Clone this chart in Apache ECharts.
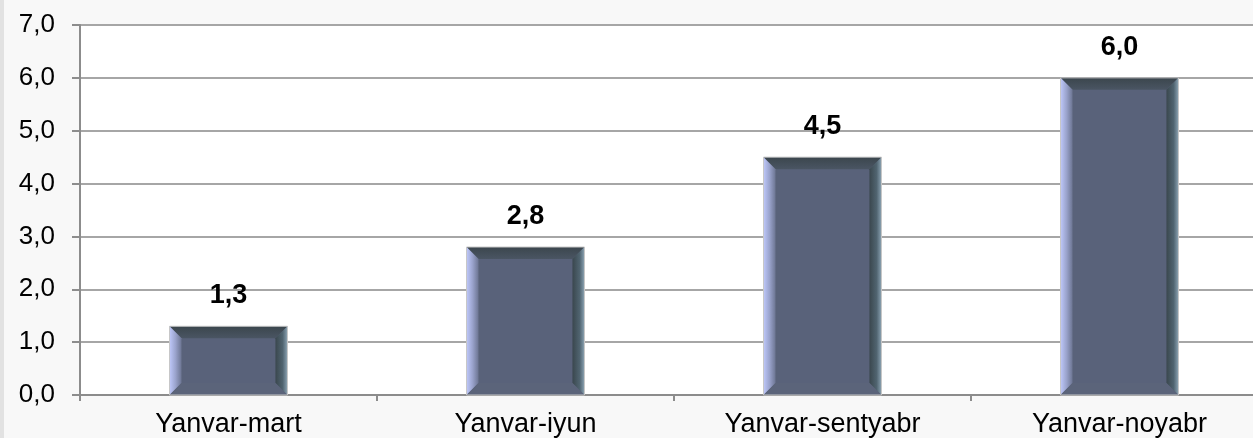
<!DOCTYPE html>
<html>
<head>
<meta charset="utf-8">
<script src="https://cdn.jsdelivr.net/npm/echarts@6/dist/echarts.min.js"></script>
<style>
html,body{margin:0;padding:0;background:#f8f8f8;overflow:hidden;}
#chart{width:1276px;height:438px;}
</style>
</head>
<body>
<div id="chart"></div>
<script>
const categories = ['Yanvar-mart', 'Yanvar-iyun', 'Yanvar-sentyabr', 'Yanvar-noyabr'];
const values = [1.3, 2.8, 4.5, 6.0];
const yTicks = [0, 1, 2, 3, 4, 5, 6, 7];

const FONT = '"Liberation Sans", Arial, sans-serif';
const fmt = v => Number(v).toFixed(1).replace('.', ',');
const chart = echarts.init(document.getElementById('chart'), null, {renderer: 'canvas'});

function renderBar(params, api) {
  const idx = api.value(0);
  const val = api.value(1);
  const base = api.coord([idx, 0]);
  const top = api.coord([idx, val]);
  const w = api.size([1, 0])[0] * 0.397;
  const L = base[0] - w / 2, R = base[0] + w / 2, T = top[1], B = base[1];
  const b = 12;
  return {
    type: 'group',
    children: [
      {type: 'rect', shape: {x: L, y: T, width: R - L, height: B - T}, style: {fill: '#59627a'}},
      {type: 'polygon', shape: {points: [[L, T], [R, T], [R - b, T + b], [L + b, T + b]]},
        style: {fill: {type: 'linear', x: 0, y: 0, x2: 0, y2: 1, colorStops: [{offset: 0, color: '#3b464d'}, {offset: 1, color: '#4a5563'}]}}},
      {type: 'polygon', shape: {points: [[L, T], [L + b, T + b], [L + b, B - b], [L, B]]},
        style: {fill: {type: 'linear', x: 0, y: 0, x2: 1, y2: 0, colorStops: [{offset: 0, color: '#bec8fa'}, {offset: 0.5, color: '#9aa3cc'}, {offset: 1, color: '#6c7592'}]}}},
      {type: 'polygon', shape: {points: [[R, T], [R, B], [R - b, B - b], [R - b, T + b]]},
        style: {fill: {type: 'linear', x: 0, y: 0, x2: 1, y2: 0, colorStops: [{offset: 0, color: '#3a474e'}, {offset: 0.6, color: '#506470'}, {offset: 1, color: '#8aa2b2'}]}}},
      {type: 'polygon', shape: {points: [[L, B], [R, B], [R - b, B - b], [L + b, B - b]]},
        style: {fill: '#5b647a'}},
      {type: 'rect', shape: {x: L, y: T, width: R - L, height: B - T}, style: {fill: 'none', stroke: '#c8c8c8', lineWidth: 1}},
      {type: 'text', style: {text: fmt(val), x: base[0], y: T - 17, align: 'center', verticalAlign: 'bottom',
        fontSize: 27, fontWeight: 'bold', fontFamily: FONT, fill: '#000'}}
    ]
  };
}

chart.setOption({
  backgroundColor: '#f8f8f8',
  animation: false,
  graphic: [{type: 'rect', left: 0, top: 0, shape: {width: 4, height: 438}, style: {fill: '#e2e2e2'}}],
  grid: {left: 80, top: 25, width: 1188, height: 371, show: true, backgroundColor: '#ffffff', borderWidth: 0, containLabel: false},
  xAxis: {
    type: 'category', data: categories,
    axisLine: {lineStyle: {color: '#8c8c8c', width: 2}},
    axisTick: {show: true, length: 6, lineStyle: {color: '#8c8c8c', width: 2}},
    axisLabel: {color: '#000', fontSize: 27, fontFamily: FONT, margin: 16}
  },
  yAxis: {
    type: 'value', min: yTicks[0], max: yTicks[yTicks.length - 1], interval: 1,
    axisLine: {show: true, lineStyle: {color: '#8c8c8c', width: 2}},
    axisTick: {show: true, length: 8, lineStyle: {color: '#8c8c8c', width: 2}},
    splitLine: {lineStyle: {color: '#a6a6a6', width: 2}},
    axisLabel: {color: '#000', fontSize: 26, fontFamily: FONT, margin: 25, formatter: fmt}
  },
  series: [{
    type: 'custom',
    renderItem: renderBar,
    data: values.map((v, i) => [i, v]),
    encode: {x: 0, y: 1},
    clip: false
  }]
});
</script>
</body>
</html>
